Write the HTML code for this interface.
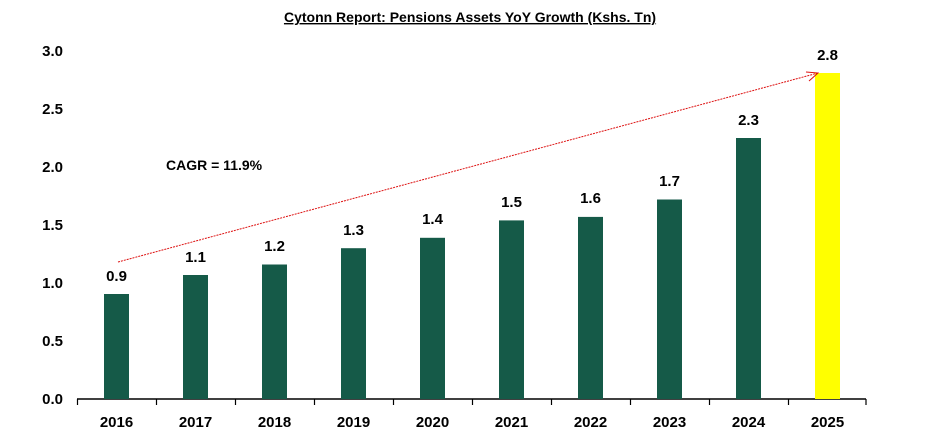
<!DOCTYPE html><html><head><style>body{margin:0;background:#fff}</style></head><body>
<svg width="940" height="436" xmlns="http://www.w3.org/2000/svg" font-family="Liberation Sans, Arial, sans-serif" font-weight="bold">
<text x="470" y="22" font-size="14" text-anchor="middle" text-decoration="underline">Cytonn Report: Pensions Assets YoY Growth (Kshs. Tn)</text>
<g font-size="15" text-anchor="end">
<text x="63" y="404">0.0</text><text x="63" y="346">0.5</text><text x="63" y="288">1.0</text><text x="63" y="230">1.5</text><text x="63" y="172">2.0</text><text x="63" y="114">2.5</text><text x="63" y="56">3.0</text></g>
<line x1="77" y1="399" x2="866" y2="399" stroke="#000" stroke-width="1.5"/>
<g stroke="#000" stroke-width="1.2">
<line x1="77.5" y1="399" x2="77.5" y2="405"/><line x1="156.5" y1="399" x2="156.5" y2="405"/><line x1="235.5" y1="399" x2="235.5" y2="405"/><line x1="314.5" y1="399" x2="314.5" y2="405"/><line x1="393.5" y1="399" x2="393.5" y2="405"/><line x1="472.5" y1="399" x2="472.5" y2="405"/><line x1="551.5" y1="399" x2="551.5" y2="405"/><line x1="630.5" y1="399" x2="630.5" y2="405"/><line x1="709.5" y1="399" x2="709.5" y2="405"/><line x1="788.5" y1="399" x2="788.5" y2="405"/><line x1="866" y1="399" x2="866" y2="405"/></g>
<g fill="#155a48">
<rect x="104" y="294" width="25" height="105"/><rect x="183" y="275" width="25" height="124"/><rect x="262" y="264.5" width="25" height="134.5"/><rect x="341" y="248.2" width="25" height="150.8"/><rect x="420" y="237.8" width="25" height="161.2"/><rect x="499" y="220.4" width="25" height="178.6"/><rect x="578" y="216.9" width="25" height="182.1"/><rect x="657" y="199.5" width="25" height="199.5"/><rect x="736" y="138" width="25" height="261"/></g>
<rect x="815" y="73" width="25" height="326" fill="#ffff00"/>
<g font-size="15" text-anchor="middle">
<text x="116.5" y="281">0.9</text><text x="195.5" y="262">1.1</text><text x="274.5" y="251">1.2</text><text x="353.5" y="235">1.3</text><text x="432.5" y="224">1.4</text><text x="511.5" y="207">1.5</text><text x="590.5" y="203">1.6</text><text x="669.5" y="186">1.7</text><text x="748.5" y="125">2.3</text><text x="827.5" y="60">2.8</text>
<text x="116.5" y="427">2016</text><text x="195.5" y="427">2017</text><text x="274.5" y="427">2018</text><text x="353.5" y="427">2019</text><text x="432.5" y="427">2020</text><text x="511.5" y="427">2021</text><text x="590.5" y="427">2022</text><text x="669.5" y="427">2023</text><text x="748.5" y="427">2024</text><text x="827.5" y="427">2025</text></g>
<text x="166" y="170" font-size="14">CAGR = 11.9%</text>
<line x1="118" y1="262" x2="818" y2="73" stroke="#d11" stroke-width="1" stroke-dasharray="2,1"/>
<path d="M806 72 L818 73 L809 81" fill="none" stroke="#d11" stroke-width="1"/>
</svg></body></html>
